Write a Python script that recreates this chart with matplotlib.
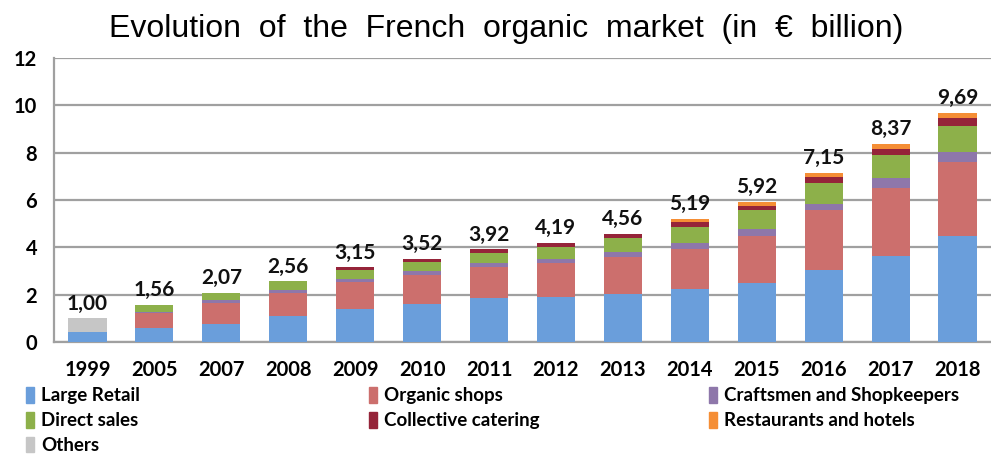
import numpy as np
import matplotlib
matplotlib.use('Agg')
import matplotlib.pyplot as plt
from matplotlib.patches import Patch

# Market segments (in EUR billion)
years = ['1999', '2005', '2007', '2008', '2009', '2010', '2011', '2012',
         '2013', '2014', '2015', '2016', '2017', '2018']
large_retail = [0.42, 0.60, 0.76, 1.10, 1.38, 1.61, 1.86, 1.90, 2.03, 2.23, 2.48, 3.03, 3.65, 4.49]
organic_shops = [0.0, 0.64, 0.87, 0.98, 1.17, 1.22, 1.31, 1.45, 1.57, 1.70, 2.01, 2.53, 2.87, 3.10]
craftsmen = [0.0, 0.04, 0.13, 0.13, 0.12, 0.18, 0.17, 0.17, 0.21, 0.25, 0.28, 0.28, 0.41, 0.42]
direct_sales = [0.0, 0.28, 0.31, 0.35, 0.38, 0.38, 0.42, 0.51, 0.58, 0.67, 0.79, 0.88, 0.98, 1.13]
collective = [0.0, 0.0, 0.0, 0.0, 0.10, 0.13, 0.16, 0.16, 0.17, 0.21, 0.20, 0.26, 0.26, 0.34]
restaurants = [0.0, 0.0, 0.0, 0.0, 0.0, 0.0, 0.0, 0.0, 0.0, 0.13, 0.16, 0.17, 0.20, 0.21]
others = [0.58, 0, 0, 0, 0, 0, 0, 0, 0, 0, 0, 0, 0, 0]
totals = ['1,00', '1,56', '2,07', '2,56', '3,15', '3,52', '3,92', '4,19',
          '4,56', '5,19', '5,92', '7,15', '8,37', '9,69']

series = [
    ('Large Retail', large_retail, '#6A9EDB'),
    ('Organic shops', organic_shops, '#CC6F6D'),
    ('Craftsmen and Shopkeepers', craftsmen, '#8E77AA'),
    ('Direct sales', direct_sales, '#8DB04A'),
    ('Collective catering', collective, '#952439'),
    ('Restaurants and hotels', restaurants, '#F58E35'),
    ('Others', others, '#C6C6C6'),
]

fig = plt.figure(figsize=(9.91, 4.55), dpi=100)
ax = fig.add_axes([0.0545, 0.2484, 0.9455, 0.6241])

x = np.arange(len(years))
bottom = np.zeros(len(years))
for name, vals, col in series:
    vals = np.array(vals, dtype=float)
    ax.bar(x, vals, bottom=bottom, width=0.57, color=col, label=name, zorder=3)
    bottom += vals

# total labels on top
for xi, top, lab in zip(x, bottom, totals):
    ax.text(xi, top + 0.2, lab, ha='center', va='bottom', fontsize=15,
            fontweight='bold', family='Lato', color='#111111')

ax.set_xlim(-0.5, len(years) - 0.5)
ax.set_ylim(0, 12)
ax.set_yticks(np.arange(0, 13, 2))
ax.set_xticks(x)
ax.set_xticklabels(years)
ax.yaxis.grid(True, color='#A0A0A0', linewidth=1.6, zorder=0)
ax.tick_params(length=0, labelsize=14.5)
for lab in ax.get_xticklabels() + ax.get_yticklabels():
    lab.set_fontweight('bold')
    lab.set_family('Lato')
ax.tick_params(axis='x', pad=13)
ax.tick_params(axis='y', pad=12)
for side in ['top', 'right']:
    ax.spines[side].set_visible(False)
for side in ['left', 'bottom']:
    ax.spines[side].set_color('#A0A0A0')
    ax.spines[side].set_linewidth(1.6)

fig.text(0.511, 0.936, 'Evolution  of  the  French  organic  market  (in  \u20ac  billion)',
         ha='center', va='center', fontsize=23, family='Liberation Sans')

# legend in three columns, row-wise order
handles = [Patch(color=c, label=n) for n, v, c in series]
cols = [[0, 3, 6], [1, 4], [2, 5]]
xpos = [0.026, 0.372, 0.715]
for idx, xp in zip(cols, xpos):
    leg = fig.legend(handles=[handles[i] for i in idx], loc='upper left',
                     bbox_to_anchor=(xp, 0.149), frameon=False,
                     prop={'family': 'Lato', 'weight': 'bold', 'size': 13.5},
                     handlelength=0.45, handleheight=0.9, handletextpad=0.35,
                     labelspacing=0.4, borderaxespad=0, borderpad=0)

fig.savefig('out.png', dpi=100)
